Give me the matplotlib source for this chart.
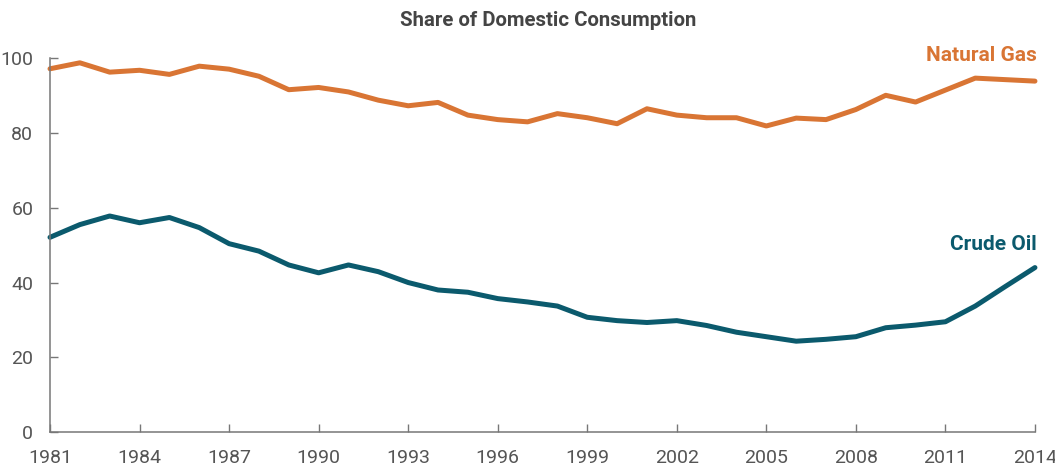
import numpy as np
import matplotlib.pyplot as plt

plt.rcParams['font.family'] = ['Roboto', 'DejaVu Sans']

years = np.arange(1981, 2015)

# share of domestic consumption (%)
natural_gas = [97.2, 98.8, 96.3, 96.8, 95.7, 97.9, 97.1, 95.2, 91.6, 92.2,
               91.0, 88.8, 87.3, 88.2, 84.8, 83.6, 83.0, 85.2, 84.1, 82.5,
               86.5, 84.8, 84.1, 84.1, 81.9, 84.0, 83.6, 86.3, 90.1, 88.3,
               91.5, 94.7, 94.3, 93.9]
crude_oil = [52.1, 55.5, 57.8, 56.0, 57.4, 54.7, 50.4, 48.4, 44.7, 42.6,
             44.7, 42.9, 40.0, 38.0, 37.4, 35.7, 34.8, 33.7, 30.7, 29.8,
             29.3, 29.8, 28.5, 26.7, 25.5, 24.3, 24.8, 25.5, 27.9, 28.6,
             29.5, 33.7, 38.9, 44.0]

gas_color = '#D97534'
oil_color = '#0B5A6D'
axis_grey = '#777777'
text_grey = '#555555'

fig = plt.figure(figsize=(10.55, 4.73), dpi=100)
ax = fig.add_axes([0.0474, 0.0867, 0.9336, 0.79])

ax.plot(years, natural_gas, color=gas_color, lw=3.6, solid_capstyle='round', clip_on=False)
ax.plot(years, crude_oil, color=oil_color, lw=3.6, solid_capstyle='round', clip_on=False)

ax.set_xlim(1981, 2014)
ax.set_ylim(0, 100)
ax.set_xticks(np.arange(1981, 2015, 3))
ax.set_yticks(np.arange(0, 101, 20))

for s in ['top', 'right']:
    ax.spines[s].set_visible(False)
for s in ['left', 'bottom']:
    ax.spines[s].set_color(axis_grey)
    ax.spines[s].set_linewidth(1.1)

ax.tick_params(axis='both', direction='in', length=6, width=1, color=axis_grey,
               labelsize=14, labelcolor=text_grey)
ax.tick_params(axis='x', pad=12)
ax.tick_params(axis='y', pad=12)

fig.text(0.5195, 0.957, 'Share of Domestic Consumption', ha='center', va='center',
         fontsize=14.7, fontweight='bold', color='#444444')

ax.text(2014.05, 100.8, 'Natural Gas', ha='right', va='center', fontsize=15,
        fontweight='bold', color=gas_color)
ax.text(2014.05, 50.3, 'Crude Oil', ha='right', va='center', fontsize=15,
        fontweight='bold', color=oil_color)

fig.savefig('out.png', dpi=100)
